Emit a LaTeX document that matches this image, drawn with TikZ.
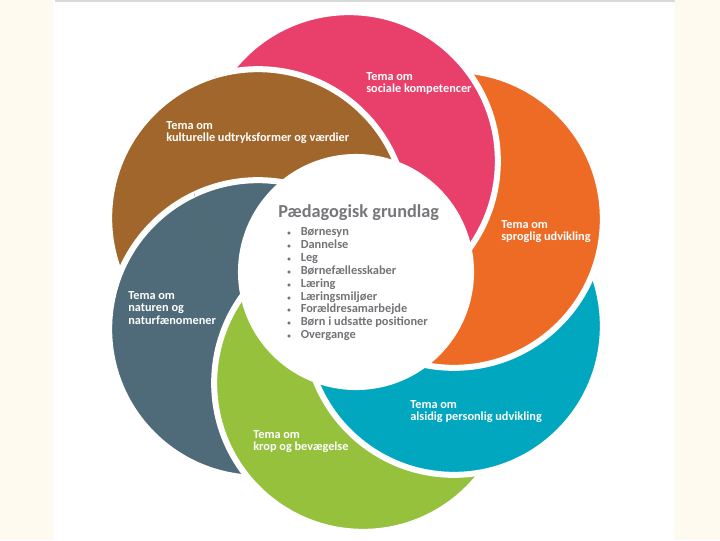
\documentclass[tikz,border=0pt]{standalone}
\usepackage{fontspec}
\setmainfont{Carlito}
\definecolor{petalpink}{HTML}{E8406A}
\definecolor{petalorange}{HTML}{EE6B25}
\definecolor{petalteal}{HTML}{00A7BF}
\definecolor{petalgreen}{HTML}{95C13D}
\definecolor{petalslate}{HTML}{4F6B7A}
\definecolor{petalbrown}{HTML}{A1662B}
\definecolor{cream}{HTML}{FFFAEF}
\definecolor{titlegrey}{HTML}{76777A}
\definecolor{textgrey}{HTML}{737477}

\begin{document}
\begin{tikzpicture}[
  x=0.025cm, y=-0.025cm,
  petal/.style={draw=white, line width=0.15cm},
  theme/.style={text=white, align=left, anchor=north west, inner sep=0pt,
    font=\fontsize{8.75}{9}\selectfont\bfseries},
  listitem/.style={text=textgrey, anchor=base west, inner sep=0pt,
    font=\fontsize{8.8}{9}\selectfont\bfseries}
]

%% Page: cream sides, white sheet, thin grey rule on top
\fill[cream] (0,0) rectangle (720,540);
\fill[white] (53,0) rectangle (675,540);
\draw[black!15, line width=0.04cm] (55,0.8) -- (675,0.8);
\useasboundingbox (0,0) rectangle (720,540);

%% Petal centres
\coordinate (pinkc) at (349,161);
\coordinate (orangec) at (454,219);
\coordinate (tealc) at (454,326);
\coordinate (greenc) at (363,383);
\coordinate (slatec) at (258,329);
\coordinate (brownc) at (258,218);

%% Petals, each one lying over the next clockwise
\path[petal, fill=petalbrown] (brownc) circle[radius=3.72cm];
\path[petal, fill=petalslate] (slatec) circle[radius=3.72cm];
\path[petal, fill=petalgreen] (greenc) circle[radius=3.72cm];
\path[petal, fill=petalteal] (tealc) circle[radius=3.72cm];
\path[petal, fill=petalorange] (orangec) circle[radius=3.72cm];
\path[petal, fill=petalpink] (pinkc) circle[radius=3.72cm];

%% Brown and slate come back over pink
\begin{scope}
  \clip (pinkc) circle[radius=3.95cm];
  \path[petal, fill=petalbrown] (brownc) circle[radius=3.72cm];
  \begin{scope}[even odd rule]
    \clip (0,0) rectangle (720,540) (greenc) circle[radius=3.8cm];
    \path[petal, fill=petalslate] (slatec) circle[radius=3.72cm];
  \end{scope}
\end{scope}

%% Centre disc
\node[circle, fill=white, inner sep=0pt, minimum size=5.9cm] (core) at (356,272) {};

\node[anchor=west, inner sep=0pt, text=titlegrey,
  font=\fontsize{13}{15}\selectfont\bfseries] (grundlag) at (278,213) {Pædagogisk grundlag};

\foreach \entry [count=\i] in {Børnesyn, Dannelse, Leg, Børnefællesskaber, Læring,
    Læringsmiljøer, Forældresamarbejde, Børn i udsatte positioner, Overgange}
  \node[listitem] (item\i) at (287,{235.5+12.9*(\i-1)})
    {\makebox[9.6pt][l]{\fontsize{5}{5}\selectfont•}\entry};

%% Theme labels
\node[theme] (social) at (366,72) {Tema om\\sociale kompetencer};
\node[theme] (kultur) at (166,121) {Tema om\\kulturelle udtryksformer og værdier};
\node[theme] (sprog) at (501,220) {Tema om\\sproglig udvikling};
\node[theme] (natur) at (128,291) {Tema om\\naturen og\\naturfænomener};
\node[theme] (alsidig) at (410,400) {Tema om\\alsidig personlig udvikling};
\node[theme] (krop) at (253,430) {Tema om\\krop og bevægelse};

\end{tikzpicture}
\end{document}
